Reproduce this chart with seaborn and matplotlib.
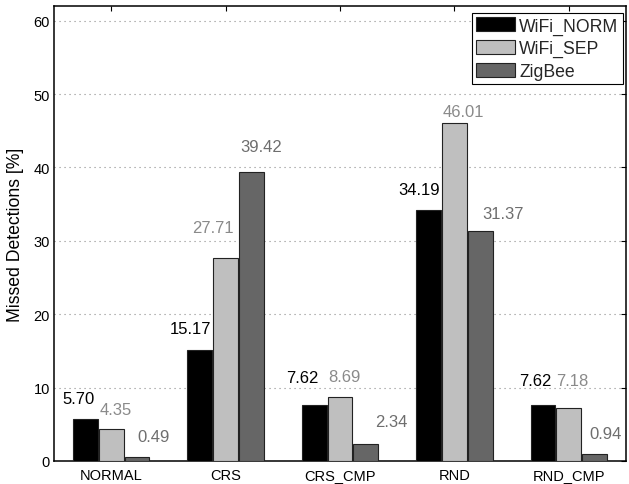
import numpy as np
import pandas as pd
import matplotlib
matplotlib.use('Agg')
import matplotlib.pyplot as plt
import seaborn as sns

sns.set_theme(style="white")
plt.rcParams['font.family'] = ['Liberation Sans', 'DejaVu Sans']

# data
scenarios = ['NORMAL', 'CRS', 'CRS_CMP', 'RND', 'RND_CMP']
series = ['WiFi_NORM', 'WiFi_SEP', 'ZigBee']
wifi_norm = [5.70, 15.17, 7.62, 34.19, 7.62]
wifi_sep = [4.35, 27.71, 8.69, 46.01, 7.18]
zigbee = [0.49, 39.42, 2.34, 31.37, 0.94]

bar_colors = ['#000000', '#bfbfbf', '#666666']
text_colors = ['#000000', '#8a8a8a', '#6e6e6e']

# hand placed value labels (dx from group centre, dy above bar), like the original
label_offsets = [
    [(-0.425, 2.85), (-0.49, 2.85), (-0.47, 3.8), (-0.49, 2.85), (-0.43, 3.4)],
    [(-0.104, 2.7), (-0.29, 4.07), (-0.10, 2.85), (-0.10, 1.63), (-0.11, 3.8)],
    [(0.225, 2.85), (0.126, 3.46), (0.31, 3.0), (0.24, 2.3), (0.18, 2.85)],
]

df = pd.DataFrame({
    'scenario': scenarios * 3,
    'series': np.repeat(series, len(scenarios)),
    'value': wifi_norm + wifi_sep + zigbee,
})

fig = plt.figure(figsize=(6.29, 4.85), dpi=100)
ax = fig.add_axes([54 / 629, 1 - 462 / 485, 572 / 629, 455 / 485])

sns.barplot(data=df, x='scenario', y='value', hue='series', order=scenarios,
            hue_order=series, palette=bar_colors, width=0.677, gap=0.04,
            edgecolor='#222222', linewidth=0.8, saturation=1, ax=ax, zorder=3)

values = [wifi_norm, wifi_sep, zigbee]
for s, vals in enumerate(values):
    for i, v in enumerate(vals):
        dx, dy = label_offsets[s][i]
        ax.text(i + dx, v + dy, f'{v:.2f}', ha='left', va='center',
                fontsize=12, color=text_colors[s], zorder=4)

ax.set_xlim(-0.5, 4.5)
ax.set_ylim(0, 62)
ax.set_yticks(range(0, 61, 10))
ax.set_xlabel('')
ax.set_ylabel('Missed Detections [%]', fontsize=12.7, color='black')
ax.yaxis.set_label_coords(-0.052, 0.5)
ax.set_axisbelow(True)
ax.yaxis.grid(True, color='#8c8c8c', linestyle=(0, (1, 3.5)), linewidth=0.8)
ax.xaxis.grid(False)

ax.tick_params(direction='in', length=3.6, width=0.8, top=True, right=True,
               labelsize=10.5, colors='black')
ax.tick_params(axis='x', pad=5)
ax.tick_params(axis='y', pad=3)
for sp in ax.spines.values():
    sp.set_color('black')
    sp.set_linewidth(1.1)

handles, labels = ax.get_legend_handles_labels()
leg = ax.legend(handles, labels, loc='upper right',
                bbox_to_anchor=(623 / 629, 1 - 14 / 485), bbox_transform=fig.transFigure,
                borderaxespad=0, fontsize=12.7, frameon=True, fancybox=False,
                framealpha=1, edgecolor='black', handlelength=2.2, handleheight=0.85,
                handletextpad=0.25, labelspacing=0.3, borderpad=0.25)
leg.get_frame().set_linewidth(0.8)

fig.savefig('out.png', dpi=100)
